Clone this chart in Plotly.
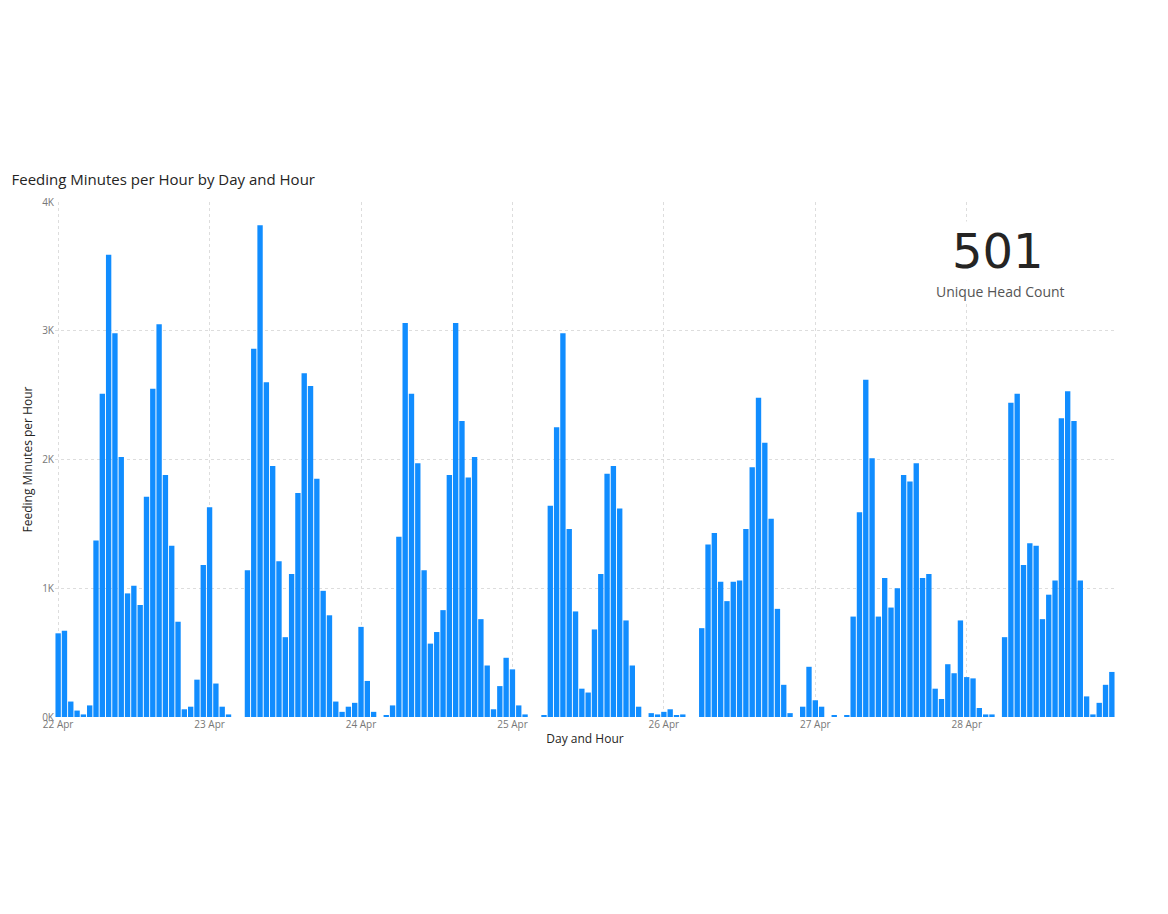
import plotly.graph_objects as go
import pandas as pd

days = ["2024-04-22", "2024-04-23", "2024-04-24", "2024-04-25", "2024-04-26", "2024-04-27", "2024-04-28"]
apr22 = [650, 670, 120, 50, 20, 90, 1370, 2510, 3590, 2980, 2020, 960, 1020, 870, 1710, 2550, 3050, 1880, 1330, 740, 60, 80, 290, 1180]
apr23 = [1630, 260, 80, 20, 0, 0, 1140, 2860, 3820, 2600, 1950, 1210, 620, 1110, 1740, 2670, 2570, 1850, 980, 790, 120, 40, 80, 110]
apr24 = [700, 280, 40, 0, 10, 90, 1400, 3060, 2510, 1970, 1140, 570, 660, 830, 1880, 3060, 2300, 1860, 2020, 760, 400, 60, 240, 460]
apr25 = [370, 90, 20, 0, 0, 10, 1640, 2250, 2980, 1460, 820, 220, 190, 680, 1110, 1890, 1950, 1620, 750, 400, 80, 0, 30, 20]
apr26 = [40, 60, 10, 20, 0, 0, 690, 1340, 1430, 1050, 900, 1050, 1060, 1460, 1940, 2480, 2130, 1540, 840, 250, 30, 0, 80, 390]
apr27 = [130, 80, 0, 10, 0, 10, 780, 1590, 2620, 2010, 780, 1080, 850, 1000, 1880, 1830, 1970, 1080, 1110, 220, 140, 410, 340, 750]
apr28 = [310, 300, 70, 20, 20, 0, 620, 2440, 2510, 1180, 1350, 1330, 760, 950, 1060, 2320, 2530, 2300, 1060, 160, 20, 110, 250, 350]
tick_vals_y = [0, 1000, 2000, 3000, 4000]
tick_text_y = ["0K", "1K", "2K", "3K", "4K"]
head_count = "501"

values = apr22 + apr23 + apr24 + apr25 + apr26 + apr27 + apr28
times = pd.date_range("2024-04-22 00:00", periods=len(values), freq="h")

fig = go.Figure(go.Bar(x=times, y=values, marker_color="#118DFF", marker_line_width=0))

grid = dict(showgrid=True, gridcolor="#DDDDDD", griddash="dot", gridwidth=1)
fig.update_layout(
    width=1168, height=914, paper_bgcolor="white", plot_bgcolor="white",
    margin=dict(l=47, r=61, t=194, b=205, autoexpand=False),
    bargap=0.15, showlegend=False,
    font=dict(family="Open Sans, DejaVu Sans", color="#666666"),
    title=dict(text="Feeding Minutes per Hour by Day and Hour", x=0.003, xanchor="left",
               y=1 - 172/914, yanchor="middle", font=dict(size=15, color="#252423", family="Open Sans, DejaVu Sans")),
)
fig.update_xaxes(range=[times[0] - pd.Timedelta(minutes=30), times[-1] + pd.Timedelta(minutes=30)],
                 tickvals=pd.to_datetime(days), tickformat="%d %b", tickfont=dict(size=10, color="#777777"),
                 title=dict(text="Day and Hour", font=dict(size=12, color="#252423"), standoff=4),
                 zeroline=False, showline=False, automargin=False, **grid)
fig.update_yaxes(range=[0, 4000], tickvals=tick_vals_y, ticktext=tick_text_y,
                 tickfont=dict(size=10, color="#777777"), ticks="", ticklen=0,
                 title=dict(text="Feeding Minutes per Hour", font=dict(size=12, color="#252423"), standoff=6),
                 zeroline=False, showline=False, automargin=False, **grid)
fig.add_annotation(text=head_count, xref="paper", yref="paper", x=(990-47)/1060, y=(709-243)/515,
                   showarrow=False, font=dict(size=48, color="#252423", family="DejaVu Sans"),
                   bgcolor="white", xanchor="center", yanchor="middle")
fig.add_annotation(text="Unique Head Count", xref="paper", yref="paper", x=(992-47)/1060, y=(709-283)/515,
                   showarrow=False, font=dict(size=14, color="#555555"), bgcolor="white",
                   xanchor="center", yanchor="middle")
fig.write_html("out.html")
